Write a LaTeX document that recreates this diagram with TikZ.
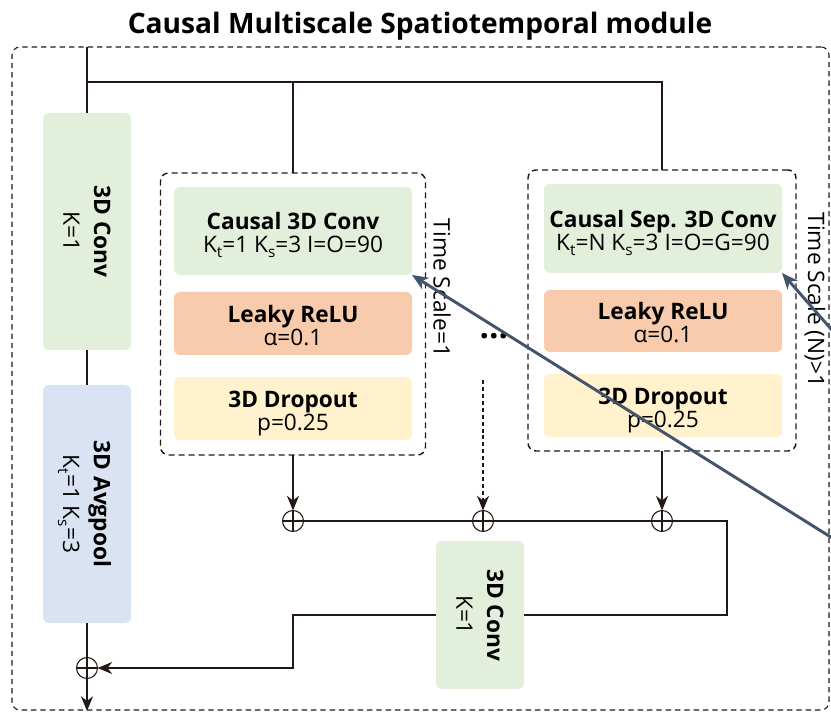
\documentclass[tikz,border=0pt]{standalone}
\usepackage{fontspec}
\setmainfont{Open Sans}
\usetikzlibrary{arrows.meta}
\definecolor{lnc}{HTML}{231815}
\definecolor{cgreen}{HTML}{E2EFDA}
\definecolor{corange}{HTML}{F8CBAD}
\definecolor{cyellow}{HTML}{FFF2CC}
\definecolor{cblue}{HTML}{DAE3F3}
\definecolor{cslate}{HTML}{44546A}
\newcommand{\sbs}[1]{\raisebox{-3.8pt}[0pt][0pt]{\fontsize{11.5}{11.5}\selectfont #1}}
\begin{document}
\begin{tikzpicture}[x=0.75pt,y=-0.75pt,
  every node/.style={inner sep=0pt, outer sep=0pt, align=center, font=\fontsize{17}{17}\selectfont},
  blk/.style={rounded corners=4.5pt},
  hblk/.style={blk, text height=32.5pt, text depth=0pt},
  vblk/.style={blk, rotate=-90, font=\fontsize{17}{23}\selectfont},
  ln/.style={draw=lnc, line width=1.1pt},
  arr/.style={ln, -{Stealth[length=11pt,width=9pt,inset=3.5pt]}},
  dbox/.style={draw=lnc, line width=1.1pt, dash pattern=on 4.5pt off 3pt, rounded corners=6pt},
  obox/.style={draw=lnc, line width=0.8pt, dash pattern=on 4pt off 3pt, rounded corners=6pt},
  sumn/.style={circle, draw=lnc, line width=0.8pt, minimum size=15.75pt},
  barr/.style={draw=cslate, line width=2.2pt, -{Stealth[length=12pt,width=10pt,inset=3.5pt]}}
]
\useasboundingbox (0,0) rectangle (831,712);
\clip (0,0) rectangle (831,712);

% title and frame
\node[font=\bfseries\fontsize{21.1}{24}\selectfont, anchor=base] (title) at (420,34) {Causal Multiscale Spatiotemporal module};
\node[obox, minimum width=612.75pt, minimum height=497.25pt] (outer) at (420.5,378.5) {};

% left column
\node[vblk, fill=cgreen, minimum width=177.75pt, minimum height=66pt] (conv1) at (87,231.5) {\textbf{3D Conv}\\K=1};
\node[vblk, fill=cblue, minimum width=178.5pt, minimum height=66pt] (pool) at (87,504) {\textbf{3D Avgpool}\\K\sbs{t}=1 K\sbs{s}=3};
\node[sumn] (sum0) at (87,668) {};

% time scale 1
\node[dbox, minimum width=198.75pt, minimum height=211.5pt] (ts1) at (293,314) {};
\node[hblk, fill=cgreen, minimum width=178.5pt, minimum height=66pt] (c1) at (293,231) {\textbf{Causal 3D Conv}\\K\sbs{t}=1 K\sbs{s}=3 I=O=90};
\node[hblk, fill=corange, minimum width=178.5pt, minimum height=47.25pt] (r1) at (293,323.5) {\textbf{Leaky ReLU}\\α=0.1};
\node[hblk, fill=cyellow, minimum width=178.5pt, minimum height=47.25pt] (d1) at (293,408.5) {\textbf{3D Dropout}\\p=0.25};
\node[rotate=-90] (lab1) at (442,288) {Time Scale=1};

% time scale N
\node[dbox, minimum width=201pt, minimum height=210.75pt] (tsN) at (662,310.5) {};
\node[hblk, fill=cgreen, minimum width=178.5pt, minimum height=66.75pt] (c2) at (663,228.5) {\textbf{Causal Sep. 3D Conv}\\K\sbs{t}=N K\sbs{s}=3 I=O=G=90};
\node[hblk, fill=corange, minimum width=178.5pt, minimum height=46.5pt] (r2) at (663,321) {\textbf{Leaky ReLU}\\α=0.1};
\node[hblk, fill=cyellow, minimum width=178.5pt, minimum height=47.25pt] (d2) at (663,405.5) {\textbf{3D Dropout}\\p=0.25};
\node[rotate=-90] (lab2) at (815,300) {Time Scale (N)>1};

\node[font=\bfseries\fontsize{25}{25}\selectfont] (dots) at (494,336) {...};

% sums
\node[sumn] (s1) at (293,521) {};
\node[sumn] (s2) at (483,521) {};
\node[sumn] (s3) at (662,521) {};
\foreach \s in {sum0,s1,s2,s3}{
  \draw[lnc, line width=0.8pt] (\s.north) -- (\s.south) (\s.west) -- (\s.east);
}

% 1x1 conv after sum
\node[vblk, fill=cgreen, minimum width=111pt, minimum height=66pt] (conv2) at (480,615) {\textbf{3D Conv}\\K=1};

% connectors
\coordinate (in) at (87,47);
\coordinate (bus) at (87,82);
\coordinate (out) at (87,711);
\coordinate (dstart) at (483,380);
\coordinate (rc) at (727,521);
\coordinate (rc2) at (727,615);
\coordinate (lc) at (293,615);

\draw[ln] (in) -- (conv1.west);
\draw[ln] (bus) -| (ts1.north);
\draw[ln] (bus) -| (tsN.north);
\draw[ln] (conv1.east) -- (pool.west);
\draw[ln] (pool.east) -- (sum0.north);
\draw[arr] (sum0.south) -- (out);
\draw[arr] (ts1.south) -- (s1.north);
\draw[arr] (tsN.south) -- (s3.north);
\draw[arr, dash pattern=on 3pt off 2.2pt] (dstart) -- (s2.north);
\draw[ln] (s1.east) -- (s2.west) (s2.east) -- (s3.west);
\draw[ln] (s3.east) -- (rc) -- (rc2) -- (conv2.north);
\draw[arr] (conv2.south) -- (lc) |- (sum0.east);

% overlay arrows
\coordinate (b1) at (845,546);
\coordinate (b2) at (845,345);
\draw[barr] (b1) -- (c1.south east);
\draw[barr] (b2) -- (c2.south east);
\end{tikzpicture}
\end{document}
